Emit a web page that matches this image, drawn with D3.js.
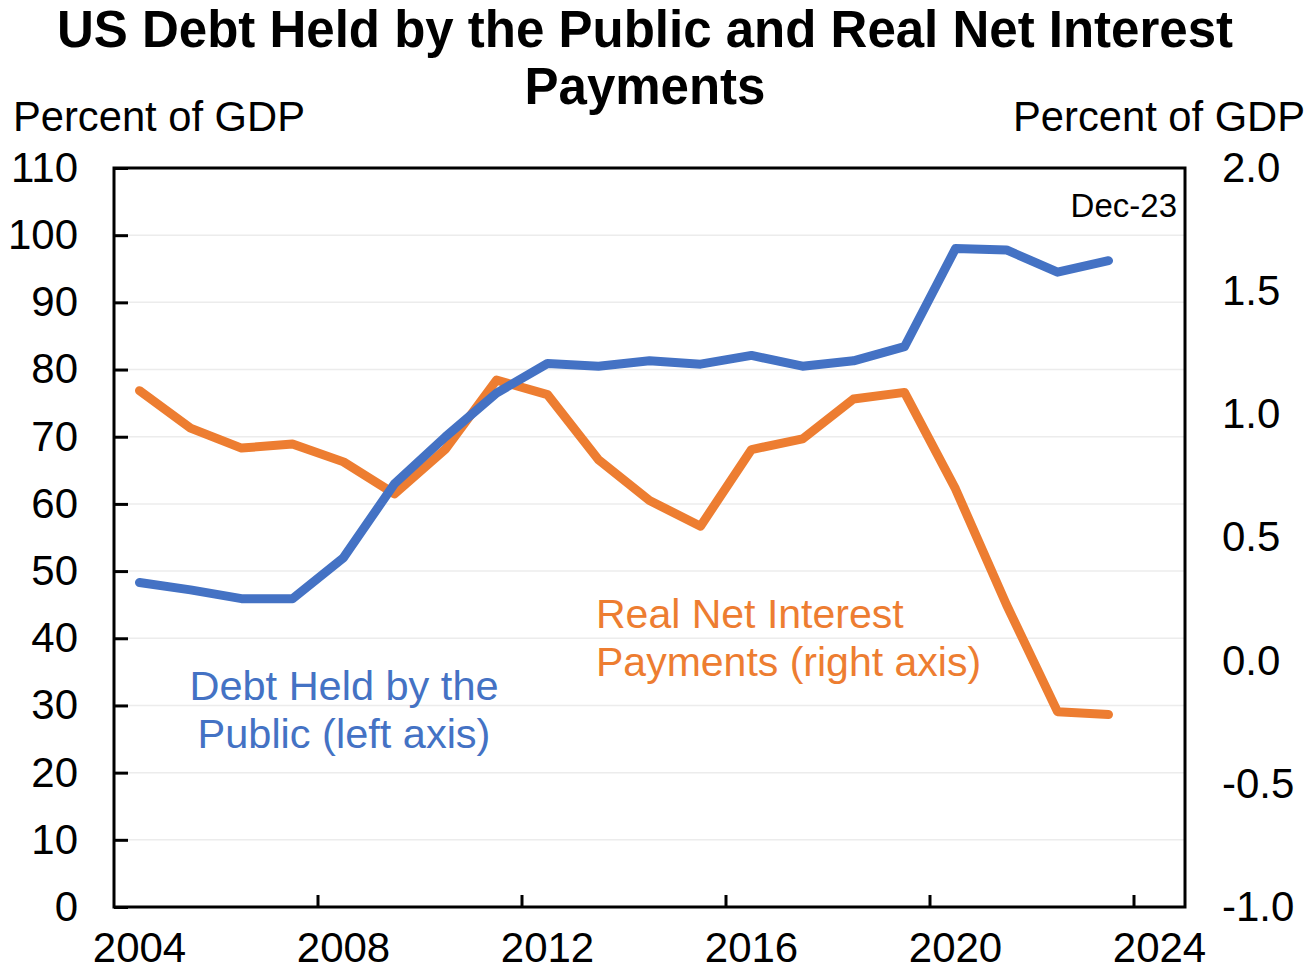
<!DOCTYPE html>
<html>
<head>
<meta charset="utf-8">
<script src="https://cdn.jsdelivr.net/npm/d3@7"></script>
<style>
  html, body { margin: 0; padding: 0; background: #fff; }
  svg { display: block; font-family: "Liberation Sans", Arial, sans-serif; }
</style>
</head>
<body>
<svg id="chart" width="1310" height="965"></svg>
<script>
// Calendar years on the category axis (2024 is an empty slot at the end)
const years = d3.range(2004, 2025);
const dataYears = d3.range(2004, 2024);

// Debt held by the public, percent of GDP (left axis)
const debtHeld = [48.3, 47.2, 45.9, 45.9, 52.0, 63.0, 70.0, 76.5, 80.9, 80.5,
                  81.3, 80.8, 82.1, 80.5, 81.3, 83.4, 98.0, 97.8, 94.5, 96.2];

// Real net interest payments, percent of GDP (right axis)
const realInterest = [1.096, 0.944, 0.863, 0.880, 0.807, 0.677, 0.859, 1.139, 1.080, 0.816,
                      0.650, 0.546, 0.857, 0.900, 1.062, 1.089, 0.697, 0.227, -0.207, -0.219];

const leftTicks = d3.range(0, 111, 10);
const rightTicks = [-1.0, -0.5, 0.0, 0.5, 1.0, 1.5, 2.0];
const yearLabels = [2004, 2008, 2012, 2016, 2020, 2024];
const boundaryTicks = [2008, 2012, 2016, 2020, 2024];

const blue = "#4472C4";
const orange = "#ED7D31";
const tickFont = 42;

const svg = d3.select("#chart");
const plot = { left: 114, right: 1185, top: 168, bottom: 907 };

const x = d3.scaleBand().domain(years).range([plot.left, plot.right]).padding(0);
const cx = yr => x(yr) + x.bandwidth() / 2;
const yL = d3.scaleLinear().domain([0, 110]).range([plot.bottom, plot.top]);
const yR = d3.scaleLinear().domain([-1, 2]).range([plot.bottom, plot.top]);

// Horizontal gridlines
svg.append("g").selectAll("line")
  .data(leftTicks.filter(v => v > 0 && v < 110))
  .join("line")
  .attr("x1", plot.left).attr("x2", plot.right)
  .attr("y1", d => yL(d)).attr("y2", d => yL(d))
  .attr("stroke", "#ececec").attr("stroke-width", 1.5);

// Left axis
const gL = svg.append("g")
  .attr("transform", `translate(${plot.left},0)`)
  .call(d3.axisLeft(yL).tickValues(leftTicks).tickSize(-14).tickPadding(36).tickFormat(d3.format("d")));
gL.select(".domain").remove();
gL.selectAll(".tick line").attr("stroke", "#000").attr("stroke-width", 3);
gL.selectAll(".tick text").attr("font-size", tickFont).attr("fill", "#000")
  .attr("font-family", "'Liberation Sans', Arial, sans-serif");

// Right axis (labels only, plain hyphen for negatives)
const fmtR = v => d3.format(".1f")(v).replace("\u2212", "-");
const gR = svg.append("g")
  .attr("transform", `translate(${plot.right},0)`)
  .call(d3.axisRight(yR).tickValues(rightTicks).tickSize(0).tickPadding(37).tickFormat(fmtR));
gR.select(".domain").remove();
gR.selectAll(".tick text").attr("font-size", tickFont).attr("fill", "#000")
  .attr("font-family", "'Liberation Sans', Arial, sans-serif");

// Bottom axis: labels centred on categories
const gB = svg.append("g")
  .attr("transform", `translate(0,${plot.bottom})`)
  .call(d3.axisBottom(x).tickValues(yearLabels).tickSize(0).tickPadding(25));
gB.select(".domain").remove();
gB.selectAll(".tick text").attr("font-size", tickFont).attr("fill", "#000")
  .attr("font-family", "'Liberation Sans', Arial, sans-serif");

// Tick marks between categories, pointing inward
svg.append("g").selectAll("line")
  .data(boundaryTicks)
  .join("line")
  .attr("x1", d => x(d)).attr("x2", d => x(d))
  .attr("y1", plot.bottom).attr("y2", plot.bottom - 12)
  .attr("stroke", "#000").attr("stroke-width", 3);

// Plot frame
svg.append("rect")
  .attr("x", plot.left).attr("y", plot.top)
  .attr("width", plot.right - plot.left).attr("height", plot.bottom - plot.top)
  .attr("fill", "none").attr("stroke", "#000").attr("stroke-width", 3);

// Series lines
const lineL = d3.line().x((d, i) => cx(dataYears[i])).y(d => yL(d));
const lineR = d3.line().x((d, i) => cx(dataYears[i])).y(d => yR(d));

svg.append("path").datum(realInterest)
  .attr("d", lineR).attr("fill", "none").attr("stroke", orange)
  .attr("stroke-width", 9).attr("stroke-linejoin", "round").attr("stroke-linecap", "round");

svg.append("path").datum(debtHeld)
  .attr("d", lineL).attr("fill", "none").attr("stroke", blue)
  .attr("stroke-width", 9).attr("stroke-linejoin", "round").attr("stroke-linecap", "round");

// Title
const title = svg.append("text").attr("text-anchor", "middle")
  .attr("font-size", 51).attr("font-weight", "bold").attr("fill", "#000");
title.append("tspan").attr("x", 645).attr("y", 47).text("US Debt Held by the Public and Real Net Interest");
title.append("tspan").attr("x", 645).attr("y", 104).text("Payments");

// Axis unit labels
svg.append("text").attr("x", 13).attr("y", 131).attr("font-size", 41.7).attr("fill", "#000")
  .text("Percent of GDP");
svg.append("text").attr("x", 1305).attr("y", 131).attr("font-size", 41.7).attr("fill", "#000")
  .attr("text-anchor", "end").text("Percent of GDP");

// Latest observation note
svg.append("text").attr("x", 1177).attr("y", 217).attr("font-size", 33).attr("fill", "#000")
  .attr("text-anchor", "end").text("Dec-23");

// Series labels
const lblDebt = svg.append("text").attr("text-anchor", "middle").attr("font-size", 41.5).attr("fill", blue);
lblDebt.append("tspan").attr("x", 344).attr("y", 700).text("Debt Held by the");
lblDebt.append("tspan").attr("x", 344).attr("y", 748).text("Public (left axis)");

const lblInt = svg.append("text").attr("font-size", 41).attr("fill", orange);
lblInt.append("tspan").attr("x", 596).attr("y", 628).text("Real Net Interest");
lblInt.append("tspan").attr("x", 596).attr("y", 676).text("Payments (right axis)");
</script>
</body>
</html>
